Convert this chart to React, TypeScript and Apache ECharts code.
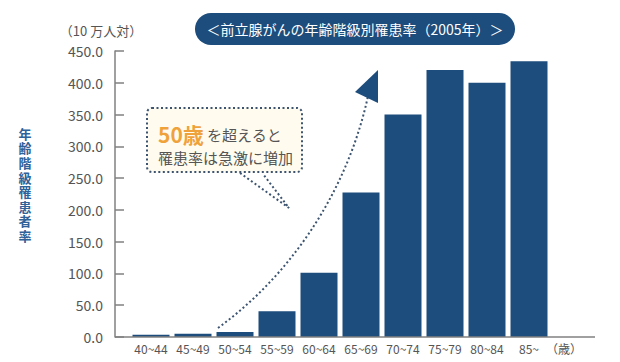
import React, { useEffect, useRef } from "react";
import * as echarts from "echarts";

const categories = ["40~44", "45~49", "50~54", "55~59", "60~64", "65~69", "70~74", "75~79", "80~84", "85~"];
const rates = [3.5, 5.2, 8.0, 40.4, 101.0, 227.5, 350.0, 420.0, 400.0, 434.0];
const yTicks = { min: 0, max: 450, interval: 50 };

const titleText = "＜前立腺がんの年齢階級別罹患率（2005年）＞";
const yTitle = "年齢階級罹患者率";
const unitText = "（10 万人対）";
const xUnit = "（歳）";

const FONT = "'Noto Sans CJK JP', 'Noto Sans', sans-serif";
const NAVY = "#1d4d7c";
const GRAY = "#555555";
const DOT = "#3c5470";

export default function App() {
  const ref = useRef<HTMLDivElement>(null);
  useEffect(() => {
    document.body.style.margin = "0";
    const chart = echarts.init(ref.current!, null, { renderer: "svg" });
    chart.setOption({
      animation: false,
      backgroundColor: "#ffffff",
      textStyle: { fontFamily: FONT },
      grid: { left: 130, right: 70, top: 51, bottom: 25, containLabel: false },
      xAxis: {
        type: "category",
        data: categories,
        axisLine: { show: false },
        axisTick: { show: false },
        axisLabel: { color: GRAY, fontSize: 12, margin: 5, interval: 0, fontFamily: FONT },
        name: xUnit,
        nameLocation: "end",
        nameGap: -4,
        nameTextStyle: { color: GRAY, fontSize: 12, verticalAlign: "top", padding: [5, 0, 0, 0], fontFamily: FONT },
      },
      yAxis: {
        type: "value",
        min: yTicks.min,
        max: yTicks.max,
        interval: yTicks.interval,
        offset: 15,
        axisLine: { show: true, lineStyle: { color: "#808080", width: 1.5 } },
        axisTick: { show: true, inside: true, length: 9, lineStyle: { color: "#808080", width: 1.5 } },
        splitLine: { show: false },
        axisLabel: {
          color: GRAY,
          fontSize: 14,
          margin: 12,
          fontFamily: FONT,
          formatter: (v: number) => v.toFixed(1),
        },
        name: unitText,
        nameLocation: "end",
        nameGap: 14,
        nameTextStyle: { color: GRAY, fontSize: 13, align: "center", padding: [0, 0, 0, -28], fontFamily: FONT },
      },
      series: [
        {
          type: "bar",
          data: rates,
          barWidth: 37,
          itemStyle: { color: NAVY },
        },
      ],
      graphic: [
        {
          type: "line",
          shape: { x1: 115, y1: 337, x2: 595, y2: 337 },
          style: { stroke: "#808080", lineWidth: 1.5 },
          z: 10,
        },
        {
          type: "rect",
          shape: { x: 195, y: 13, width: 320, height: 32, r: 16 },
          style: { fill: NAVY },
        },
        {
          type: "text",
          style: {
            text: titleText,
            x: 355,
            y: 29,
            textAlign: "center",
            textVerticalAlign: "middle",
            fill: "#ffffff",
            fontSize: 14,
            fontFamily: FONT,
          },
        },
        {
          type: "text",
          style: {
            text: yTitle.split("").join("\n"),
            x: 25,
            y: 126,
            textAlign: "center",
            fontSize: 13,
            lineHeight: 14.6,
            fontWeight: "bold",
            fill: "#2f6299",
            fontFamily: FONT,
          },
        },
        {
          type: "rect",
          shape: { x: 147, y: 108, width: 155, height: 64, r: 5 },
          style: { fill: "#fffcef", stroke: DOT, lineWidth: 2, lineDash: [2, 2.5] },
        },
        {
          type: "polyline",
          shape: { points: [[240, 173], [289, 208], [263, 174]] },
          style: { fill: null, stroke: DOT, lineWidth: 2, lineDash: [2, 2.5] },
        },
        {
          type: "text",
          style: {
            text: "{a|50歳} {b|を超えると}",
            x: 158,
            y: 134,
            textVerticalAlign: "middle",
            rich: {
              a: { fontSize: 21, fontWeight: "bold", fill: "#f0a23a", fontFamily: FONT },
              b: { fontSize: 15, fill: "#555555", fontFamily: FONT },
            },
          },
        },
        {
          type: "text",
          style: {
            text: "罹患率は急激に増加",
            x: 158,
            y: 157,
            textVerticalAlign: "middle",
            fontSize: 15,
            fill: "#555555",
            fontFamily: FONT,
          },
        },
        {
          type: "bezierCurve",
          shape: { x1: 218, y1: 328, cpx1: 300, cpy1: 268, cpx2: 350, cpy2: 180, x2: 368, y2: 96 },
          style: { fill: null, stroke: DOT, lineWidth: 2, lineDash: [2, 2.5] },
        },
        {
          type: "polygon",
          shape: { points: [[378, 70], [355, 92], [378, 103]] },
          style: { fill: NAVY },
        },
      ],
    });
    return () => chart.dispose();
  }, []);
  return <div ref={ref} style={{ width: 620, height: 362 }} />;
}
